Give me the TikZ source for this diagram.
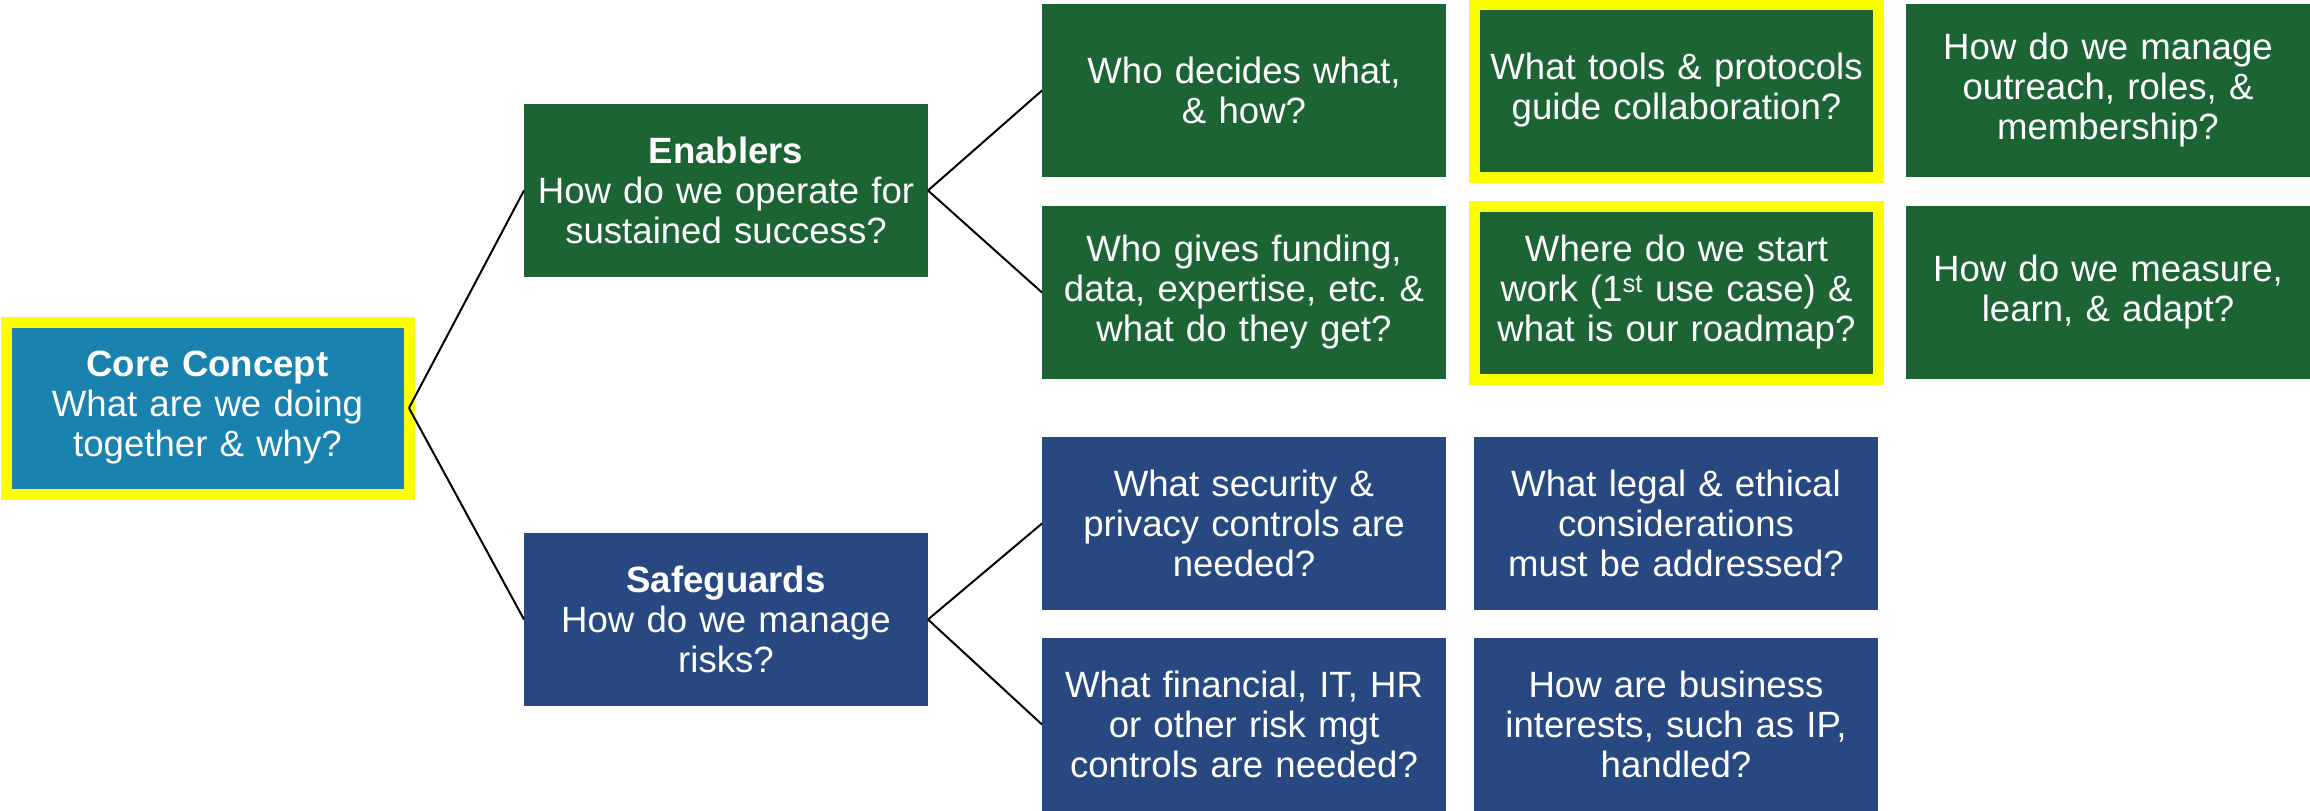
\documentclass[tikz,border=0pt]{standalone}
\usepackage{fontspec}
\setmainfont{Liberation Sans}
\frenchspacing
\definecolor{cgreen}{RGB}{28,100,52}
\definecolor{cblue}{RGB}{25,130,175}
\definecolor{cnavy}{RGB}{40,72,130}
\definecolor{cyellow}{RGB}{255,255,0}
\tikzset{
  box/.style={rectangle, minimum width=404pt, minimum height=173pt, text width=400pt, align=center,
    inner sep=0pt, outer sep=0pt, text=white, font=\fontsize{36.6}{40}\selectfont},
  gbox/.style={box, fill=cgreen},
  nbox/.style={box, fill=cnavy},
  hilite/.style={draw=cyellow, line width=11pt},
  conn/.style={draw=black, line width=2pt}
}
\begin{document}
\begin{tikzpicture}[x=1pt,y=-1pt]
\useasboundingbox (0,0) rectangle (2310,811);
% core
\node[box, fill=cblue, hilite, minimum width=403pt, minimum height=172pt] (core) at (207.5,408) {\textbf{Core Concept}\\What are we doing\\together \& why?};
% level 1
\node[gbox] (en) at (726,190.5) {\textbf{Enablers}\\How do we operate for\\sustained success?};
\node[nbox] (sg) at (726,619.5) {\textbf{Safeguards}\\How do we manage\\risks?};
% enablers children
\node[gbox] (e1) at (1244,90.5) {Who decides what,\\\& how?};
\node[gbox] (e2) at (1244,292.5) {Who gives funding,\\data, expertise, etc. \&\\what do they get?};
\node[gbox, hilite] (e3) at (1676.5,90.5) {What tools \& protocols\\guide collaboration?};
\node[gbox, hilite] (e4) at (1676.5,292.5) {Where do we start\\work (1\textsuperscript{st} use case) \&\\what is our roadmap?};
\node[gbox] (e5) at (2108,90.5) {How do we manage\\outreach, roles, \&\\membership?};
\node[gbox] (e6) at (2108,292.5) {How do we measure,\\learn, \& adapt?};
% safeguards children
\node[nbox] (s1) at (1244,523.5) {What security \&\\privacy controls are\\needed?};
\node[nbox] (s2) at (1244,724.5) {What financial, IT, HR\\or other risk mgt\\controls are needed?};
\node[nbox] (s3) at (1676,523.5) {What legal \& ethical\\considerations\\must be addressed?};
\node[nbox] (s4) at (1676,724.5) {How are business\\interests, such as IP,\\handled?};
% connectors
\draw[conn] (core.east) -- (en.west);
\draw[conn] (core.east) -- (sg.west);
\draw[conn] (en.east) -- (e1.west);
\draw[conn] (en.east) -- (e2.west);
\draw[conn] (sg.east) -- (s1.west);
\draw[conn] (sg.east) -- (s2.west);
\end{tikzpicture}
\end{document}
